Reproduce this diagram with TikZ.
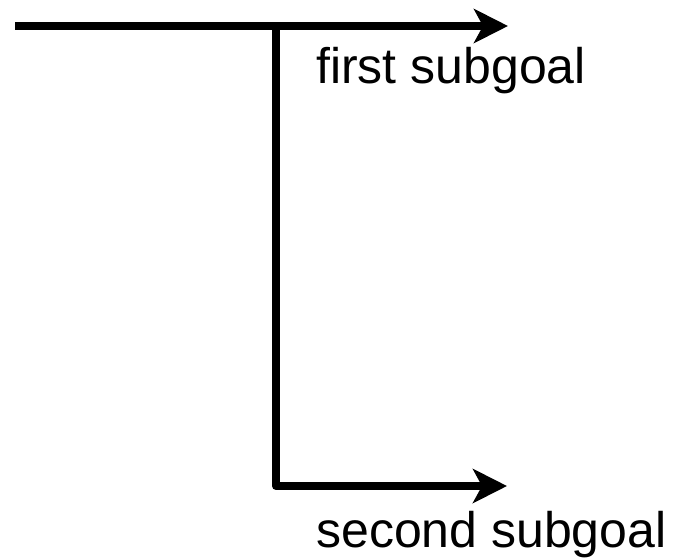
\documentclass[tikz,border=0pt]{standalone}
\usepackage{fontspec}
\setmainfont{Liberation Sans}
\usetikzlibrary{arrows.meta}
\begin{document}
\begin{tikzpicture}[x=1pt,y=-1pt,
  conn/.style={line width=8pt,line join=round,-{Stealth[length=34pt,width=34pt,inset=9pt]}},
  lbl/.style={inner sep=0pt,anchor=base west,font=\fontsize{50}{60}\selectfont}]
\useasboundingbox (0,0) rectangle (681,558);
\coordinate (start) at (15,26);
\coordinate (junc) at (276,26);
\coordinate (end1) at (508,26);
\coordinate (corner) at (276,486);
\coordinate (end2) at (507,486);
\draw[conn] (start) -- (end1);
\draw[conn] (junc) -- (corner) -- (end2);
\node[lbl] (first) at (316,83) {first subgoal};
\node[lbl] (second) at (316,547) {second subgoal};
\end{tikzpicture}
\end{document}
